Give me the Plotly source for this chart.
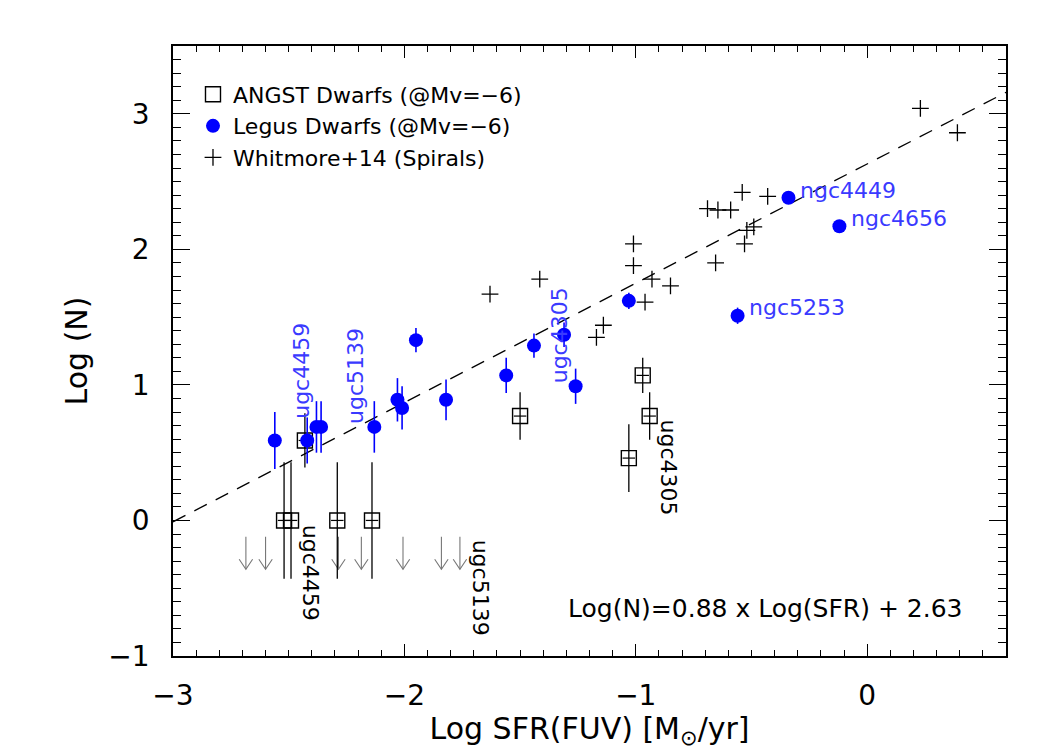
import plotly.graph_objects as go

# ---------------- data ----------------
# ANGST dwarfs (open squares with error bars)
angst_x = [-2.52, -2.49, -2.43, -2.29, -2.14, -1.50, -1.03, -0.97, -0.94]
angst_y = [0.00, 0.00, 0.59, 0.00, 0.00, 0.77, 0.46, 1.07, 0.77]
angst_err = [0.43, 0.43, 0.20, 0.43, 0.43, 0.175, 0.25, 0.13, 0.175]

# LEGUS dwarfs (blue filled circles with error bars)
legus_x = [-2.56, -2.42, -2.38, -2.36, -2.13, -2.03, -2.01, -1.95, -1.82,
           -1.56, -1.44, -1.31, -1.26, -1.03, -0.56, -0.34, -0.12]
legus_y = [0.59, 0.59, 0.69, 0.69, 0.69, 0.89, 0.83, 1.33, 0.89,
           1.07, 1.29, 1.37, 0.99, 1.62, 1.51, 2.38, 2.17]
legus_err = [0.21, 0.17, 0.19, 0.19, 0.19, 0.16, 0.16, 0.09, 0.15,
             0.13, 0.09, 0.09, 0.13, 0.06, 0.06, 0.03, 0.02]

# Whitmore+14 spirals (plus signs)
whit_x = [0.23, 0.39, -0.54, -0.43, -0.69, -0.645, -0.59, -0.49, -0.52, -0.53,
          -1.01, -1.01, -0.93, -0.85, -0.655, -0.96, -1.14, -1.17, -1.63, -1.415]
whit_y = [3.04, 2.86, 2.42, 2.39, 2.30, 2.29, 2.29, 2.165, 2.14, 2.04,
          2.04, 1.88, 1.78, 1.73, 1.90, 1.61, 1.44, 1.35, 1.67, 1.78]

# upper limits (arrows)
limit_x = [-2.685, -2.60, -2.285, -2.186, -2.006, -1.84, -1.76]
limit_top = -0.12
limit_tip = -0.36

# fit
fit_slope = 0.88
fit_intercept = 2.63
fit_xrange = [-3.0, 0.6]

# labels
blue_labels = [("ngc4449", -0.343, 2.376), ("ngc4656", -0.12, 2.172), ("ngc5253", -0.563, 1.513)]
blue_vlabels = [("ugc4459", -2.445, 1.107), ("ugc5139", -2.211, 1.063), ("ugc4305", -1.328, 1.365)]
black_vlabels = [("ugc4459", -2.405, -0.384), ("ugc5139", -1.670, -0.494), ("ugc4305", -0.857, 0.391)]

X_RANGE = [-3, 0.6]
Y_RANGE = [-1, 3.5]

FONT = "DejaVu Sans"
BLUE = "#0000ff"
TXTBLUE = "#3a3aff"

fig = go.Figure()

# fit line
fx = fit_xrange
fy = [fit_slope * v + fit_intercept for v in fx]
fig.add_trace(go.Scatter(x=fx, y=fy, mode="lines", showlegend=False, hoverinfo="skip",
                         line=dict(color="black", width=1.3, dash="14px,10px")))

# arrows as line segments
ax_, ay_ = [], []
hw, hh = 0.029, 0.074
for xv in limit_x:
    ax_ += [xv, xv, None, xv - hw, xv, xv + hw, None]
    ay_ += [limit_top, limit_tip, None, limit_tip + hh, limit_tip, limit_tip + hh, None]
fig.add_trace(go.Scatter(x=ax_, y=ay_, mode="lines", showlegend=False, hoverinfo="skip",
                         line=dict(color="#777777", width=1.1)))

# ANGST
fig.add_trace(go.Scatter(
    x=angst_x, y=angst_y, mode="markers", name="ANGST Dwarfs (@Mv=−6)",
    marker=dict(symbol="square-open", size=15, color="black", line=dict(width=1.4, color="black")),
    error_y=dict(type="data", array=angst_err, color="black", thickness=1.3, width=0),
    error_x=dict(type="constant", value=0.027, color="black", thickness=1.2, width=0),
))

# LEGUS
fig.add_trace(go.Scatter(
    x=legus_x, y=legus_y, mode="markers", name="Legus Dwarfs (@Mv=−6)",
    marker=dict(symbol="circle", size=14, color=BLUE, line=dict(width=0)),
    error_y=dict(type="data", array=legus_err, color=BLUE, thickness=1.6, width=0),
))

# Whitmore
fig.add_trace(go.Scatter(
    x=whit_x, y=whit_y, mode="markers", name="Whitmore+14 (Spirals)",
    marker=dict(symbol="cross-thin", size=12, color="black", line=dict(width=1.3, color="black")),
))

# invisible trace on the mirror axes (top / right ticks)
fig.add_trace(go.Scatter(x=fx, y=fy, xaxis="x2", yaxis="y2", mode="lines", showlegend=False,
                         hoverinfo="skip", line=dict(width=0, color="rgba(0,0,0,0)")))

ann = []
for t, xv, yv in blue_labels:
    ann.append(dict(x=xv, y=yv, xref="x", yref="y", text=t, showarrow=False,
                    xanchor="left", yanchor="middle", xshift=10, yshift=8,
                    font=dict(family=FONT, size=22, color=TXTBLUE)))
for t, xv, yv in blue_vlabels:
    ann.append(dict(x=xv, y=yv, xref="x", yref="y", text=t, showarrow=False, textangle=-90,
                    xanchor="center", yanchor="middle",
                    font=dict(family=FONT, size=22, color=TXTBLUE)))
for t, xv, yv in black_vlabels:
    ann.append(dict(x=xv, y=yv, xref="x", yref="y", text=t, showarrow=False, textangle=90,
                    xanchor="center", yanchor="middle",
                    font=dict(family=FONT, size=22, color="black")))
ann.append(dict(x=-0.443, y=-0.65, xref="x", yref="y", showarrow=False,
                text=f"Log(N)={fit_slope:.2f} x Log(SFR) + {fit_intercept:.2f}",
                xanchor="center", yanchor="middle",
                font=dict(family=FONT, size=25, color="black")))

axis_common = dict(showline=True, linecolor="black", linewidth=1.5, mirror="allticks",
                   ticks="inside", tickcolor="black", tickwidth=1.2, showgrid=False,
                   zeroline=False, automargin=False,
                   tickfont=dict(family=FONT, size=28, color="black"))
mirror_common = dict(showline=False, ticks="inside", tickcolor="black", tickwidth=1.2,
                     showgrid=False, zeroline=False, showticklabels=False, automargin=False)

fig.update_layout(
    width=1050, height=750,
    margin=dict(l=173, r=44, t=46, b=94),
    plot_bgcolor="white", paper_bgcolor="white",
    font=dict(family=FONT, color="black"),
    annotations=ann,
    legend=dict(x=0.024, y=0.955, xanchor="left", yanchor="top", bgcolor="rgba(0,0,0,0)",
                font=dict(family=FONT, size=22, color="black"), tracegroupgap=0,
                itemwidth=30),
    xaxis=dict(range=X_RANGE, dtick=1, tick0=0, ticklen=12,
               minor=dict(dtick=0.1, ticks="inside", ticklen=6, tickcolor="black", showgrid=False),
               ticklabelstandoff=14,
               title=dict(text="Log SFR(FUV) [M<sub>⊙</sub>/yr]",
                          font=dict(family=FONT, size=30, color="black"), standoff=20),
               **axis_common),
    yaxis=dict(range=Y_RANGE, dtick=1, tick0=0, ticklen=17,
               minor=dict(dtick=0.1, ticks="inside", ticklen=8, tickcolor="black", showgrid=False),
               ticklabelstandoff=16,
               title=dict(text="Log (N)", font=dict(family=FONT, size=30, color="black"), standoff=12),
               **axis_common),
    xaxis2=dict(overlaying="x", side="top", anchor="y", range=X_RANGE, dtick=1, tick0=0, ticklen=12,
                minor=dict(dtick=0.1, ticks="inside", ticklen=6, tickcolor="black", showgrid=False),
                **mirror_common),
    yaxis2=dict(overlaying="y", side="right", anchor="x", range=Y_RANGE, dtick=1, tick0=0, ticklen=17,
                minor=dict(dtick=0.1, ticks="inside", ticklen=8, tickcolor="black", showgrid=False),
                **mirror_common),
)

fig.write_html("out.html")
